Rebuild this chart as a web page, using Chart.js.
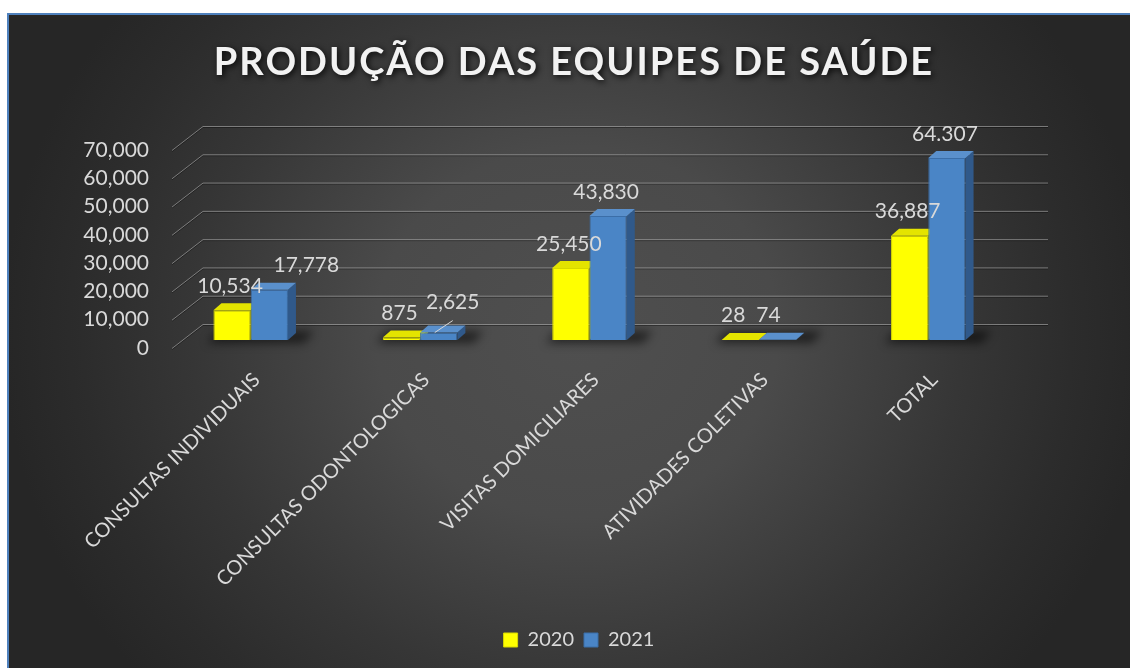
<!DOCTYPE html>
<html>
<head>
<meta charset="utf-8">
<script src="https://cdn.jsdelivr.net/npm/chart.js@4.4.1/dist/chart.umd.min.js"></script>
<style>
  html, body { margin: 0; padding: 0; background: #fff; }
  #moldura {
    position: absolute; left: 7px; top: 13px; width: 1123px; height: 655px;
    box-sizing: border-box;
    border-top: 2px solid #4f81bd; border-left: 2px solid #4f81bd;
    background: radial-gradient(ellipse 575px 530px at 568px 317px,
      #4f4f4f 0%, #4a4a4a 35%, #363636 67%, #2c2c2c 86%, #262626 100%);
  }
  #grafico { position: absolute; left: 0; top: 0; }
</style>
</head>
<body>
<div id="moldura"></div>
<canvas id="grafico" width="1130" height="668"></canvas>
<script>
const titulo = "PRODUÇÃO DAS EQUIPES DE SAÚDE";
const categorias = ["CONSULTAS INDIVIDUAIS", "CONSULTAS ODONTOLOGICAS", "VISITAS DOMICILIARES", "ATIVIDADES COLETIVAS", "TOTAL"];
const series = ["2020", "2021"];
const valores2020 = [10534, 875, 25450, 28, 36887];
const valores2021 = [17778, 2625, 43830, 74, 64307];
const rotulos2020 = ["10,534", "875", "25,450", "28", "36,887"];
const rotulos2021 = ["17,778", "2,625", "43,830", "74", "64.307"];
const marcasY = [0, 10000, 20000, 30000, 40000, 50000, 60000, 70000];

const corTexto = "#d9d9d9";

// profundidade das barras e da parede de fundo
const PROF_BARRA = { dx: 8, dy: 7 };
const PAREDE = { frenteX: 6, frenteY: 8, fundoX: 37, fundoY: -16, fimX: 35 };
const CENTRO_LEGENDA = 579;

// ajustes de posição de alguns rótulos (dataset-índice): [dx, dy, linha guia]
const ajusteRotulos = {
  "1-0": [37, -24],
  "1-1": [14, -30, true],
  "0-3": [-7, -25],
  "1-3": [-9, -25]
};

const efeito3d = {
  id: "efeito3d",
  afterLayout(chart) {
    // legenda centrada no quadro inteiro, não só na área do gráfico
    const lg = chart.legend;
    const d = CENTRO_LEGENDA - (lg.left + lg.right) / 2;
    lg.left += d;
    lg.right += d;
  },
  beforeDatasetsDraw(chart) {
    const ctx = chart.ctx;
    const y = chart.scales.y;
    const area = chart.chartArea;

    // grade em perspectiva: diagonal na lateral e linha na parede do fundo
    ctx.save();
    marcasY.forEach(v => {
      const py = y.getPixelForValue(v);
      const x0 = area.left + PAREDE.frenteX, y0 = py + PAREDE.frenteY;
      const x1 = area.left + PAREDE.fundoX, y1 = py + PAREDE.fundoY;
      const x2 = area.right + PAREDE.fimX;
      ctx.lineWidth = 1;
      ctx.strokeStyle = "rgba(0,0,0,0.35)";
      ctx.beginPath();
      ctx.moveTo(x0, y0 + 1.5); ctx.lineTo(x1, y1 + 1.5); ctx.lineTo(x2, y1 + 1.5);
      ctx.stroke();
      ctx.strokeStyle = "rgba(175,175,175,0.6)";
      ctx.beginPath();
      ctx.moveTo(x0, y0 + 0.5); ctx.lineTo(x1, y1 + 0.5); ctx.lineTo(x2, y1 + 0.5);
      ctx.stroke();
    });
    ctx.restore();

    const m0 = chart.getDatasetMeta(0).data;
    const m1 = chart.getDatasetMeta(1).data;

    // sombra no chão sob cada par de barras
    ctx.save();
    ctx.filter = "blur(5px)";
    ctx.fillStyle = "rgba(0,0,0,0.55)";
    m0.forEach((b0, i) => {
      const b1 = m1[i];
      const l = b0.x - b0.width / 2 - 6;
      const r = b1.x + b1.width / 2 + 26;
      const base = b0.base;
      ctx.beginPath();
      ctx.moveTo(l, base + 3);
      ctx.lineTo(r - 10, base + 3);
      ctx.lineTo(r, base - 9);
      ctx.lineTo(l + 10, base - 9);
      ctx.closePath();
      ctx.fill();
    });
    ctx.restore();

    // faces laterais e superiores
    const { dx, dy } = PROF_BARRA;
    chart.data.datasets.forEach((ds, i) => {
      chart.getDatasetMeta(i).data.forEach(bar => {
        const l = bar.x - bar.width / 2, r = bar.x + bar.width / 2;
        const top = bar.y, base = bar.base;
        ctx.fillStyle = ds.corLado;
        ctx.beginPath();
        ctx.moveTo(r, top); ctx.lineTo(r + dx, top - dy);
        ctx.lineTo(r + dx, base - dy); ctx.lineTo(r, base);
        ctx.closePath(); ctx.fill();
        ctx.fillStyle = ds.corTopo;
        ctx.beginPath();
        ctx.moveTo(l, top); ctx.lineTo(l + dx, top - dy);
        ctx.lineTo(r + dx, top - dy); ctx.lineTo(r, top);
        ctx.closePath(); ctx.fill();
      });
    });
  },
  afterDatasetsDraw(chart) {
    const ctx = chart.ctx;
    ctx.save();
    ctx.font = "21px Lato";
    ctx.fillStyle = corTexto;
    ctx.textAlign = "center";
    ctx.textBaseline = "middle";
    chart.data.datasets.forEach((ds, i) => {
      chart.getDatasetMeta(i).data.forEach((bar, j) => {
        const aj = ajusteRotulos[i + "-" + j] || [-2, -24];
        const lx = bar.x + aj[0], ly = bar.y + aj[1];
        ctx.fillText(ds.rotulos[j], lx, ly);
        if (aj[2]) {
          ctx.strokeStyle = corTexto;
          ctx.lineWidth = 1;
          ctx.beginPath();
          ctx.moveTo(lx, ly + 18);
          ctx.lineTo(bar.x - 4, bar.y);
          ctx.stroke();
        }
      });
    });
    ctx.restore();
  },
  afterDraw(chart) {
    const ctx = chart.ctx;
    ctx.save();
    ctx.font = "bold 38px Lato";
    ctx.letterSpacing = "2px";
    ctx.textAlign = "center";
    ctx.textBaseline = "middle";
    ctx.shadowColor = "rgba(0,0,0,0.85)";
    ctx.shadowBlur = 6;
    ctx.shadowOffsetX = 2;
    ctx.shadowOffsetY = 2;
    ctx.fillStyle = "#f2f2f2";
    ctx.fillText(titulo, 574, 63);
    ctx.restore();
  }
};

Chart.defaults.font.family = "Lato";
Chart.defaults.color = corTexto;

new Chart(document.getElementById("grafico"), {
  type: "bar",
  data: {
    labels: categorias,
    datasets: [
      {
        label: series[0],
        data: valores2020,
        rotulos: rotulos2020,
        backgroundColor: "#ffff00",
        borderColor: "#d8d800",
        borderWidth: 1,
        corLado: "#b5b500",
        corTopo: "#e4e400"
      },
      {
        label: series[1],
        data: valores2021,
        rotulos: rotulos2021,
        backgroundColor: "#4a85c6",
        borderColor: "#3b6ea8",
        borderWidth: 1,
        corLado: "#30598a",
        corTopo: "#5a90cc"
      }
    ]
  },
  options: {
    responsive: false,
    animation: false,
    devicePixelRatio: 1,
    layout: { padding: { left: 46, right: 117, top: 142, bottom: 8 } },
    categoryPercentage: 0.44,
    barPercentage: 1,
    scales: {
      x: {
        grid: { display: false },
        border: { display: false },
        ticks: {
          autoSkip: false,
          minRotation: 45,
          maxRotation: 45,
          padding: 20,
          labelOffset: 6,
          color: corTexto,
          font: { size: 20 }
        },
        afterFit(scale) { scale.height = 280; }
      },
      y: {
        min: 0,
        max: 70000,
        grid: { display: false },
        border: { display: false },
        afterBuildTicks(scale) { scale.ticks = marcasY.map(v => ({ value: v })); },
        ticks: {
          padding: 9,
          labelOffset: 8,
          color: corTexto,
          font: { size: 21 },
          callback: v => v.toLocaleString("en-US")
        },
        afterFit(scale) { scale.width = 120; }
      }
    },
    plugins: {
      title: { display: false },
      tooltip: { enabled: false },
      legend: {
        position: "bottom",
        labels: {
          boxWidth: 14,
          boxHeight: 14,
          padding: 10,
          color: corTexto,
          font: { size: 20 }
        }
      }
    }
  },
  plugins: [efeito3d]
});
</script>
</body>
</html>
